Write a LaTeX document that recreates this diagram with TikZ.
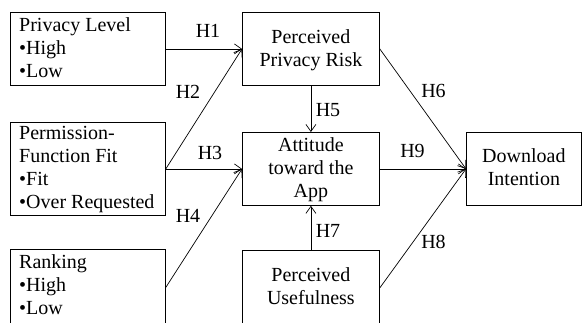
\documentclass[tikz,border=0pt]{standalone}
\usepackage{fontspec}
\setmainfont{Liberation Serif}
\usetikzlibrary{arrows.meta}
% stacked lines with a fixed 23pt pitch; the node's base is the first baseline
\newcommand{\leftlines}[1]{\begin{tabular}[t]{@{}l@{}}#1\end{tabular}}
\newcommand{\midlines}[1]{\begin{tabular}[t]{@{}c@{}}#1\end{tabular}}
\begin{document}
\begin{tikzpicture}[x=1pt,y=-1pt,
  every node/.style={font=\fontsize{20pt}{23pt}\selectfont, inner sep=0pt},
  box/.style={draw, line width=0.8pt, anchor=north west},
  factor/.style={box, minimum width=155pt},
  construct/.style={box, minimum width=137pt, minimum height=73pt},
  lefttext/.style={anchor=base west},
  midtext/.style={anchor=base},
  link/.style={line width=0.7pt, -{Straight Barb[length=7pt,width=10pt,line width=0.7pt]}}
]
\useasboundingbox (0,0) rectangle (582,322);
\clip (0,0) rectangle (582,322);

% manipulated factors
\node[factor, minimum height=73pt] (privacy) at (10,12) {};
\node[factor, minimum height=93pt] (permission) at (10,122) {};
\node[factor, minimum height=76pt] (ranking) at (10,249) {};
\node[lefttext] (privacy-text) at (19,31) {\leftlines{Privacy Level\\\textbullet High\\\textbullet Low}};
\node[lefttext] (permission-text) at (19,139) {\leftlines{Permission-\\Function Fit\\\textbullet Fit\\\textbullet Over Requested}};
\node[lefttext] (ranking-text) at (19,268) {\leftlines{Ranking\\\textbullet High\\\textbullet Low}};

% mediating constructs
\node[construct] (risk) at (242,12) {};
\node[construct] (attitude) at (242,132) {};
\node[construct, minimum height=75pt] (useful) at (242,250) {};
\node[midtext] (risk-text) at (risk.center |- 0,43) {\midlines{Perceived\\Privacy Risk}};
\node[midtext] (attitude-text) at (attitude.center |- 0,151) {\midlines{Attitude\\toward the\\App}};
\node[midtext] (useful-text) at (useful.center |- 0,281) {\midlines{Perceived\\Usefulness}};

% outcome
\node[box, minimum width=115pt, minimum height=73pt] (download) at (466,132) {};
\node[midtext] (download-text) at (download.center |- 0,162) {\midlines{Download\\Intention}};

% hypothesised paths
\draw[link] (privacy.east) -- (risk.west);
\draw[link] (permission.east) -- (risk.west);
\draw[link] (permission.east) -- (attitude.west);
\draw[link] (ranking.east) -- (attitude.west);
\draw[link] (risk.south) -- (attitude.north);
\draw[link] (useful.north) -- (attitude.south);
\draw[link] (risk.east) -- (download.west);
\draw[link] (attitude.east) -- (download.west);
\draw[link] (useful.east) -- (download.west);

% path labels
\node (h1) at (208,31) {H1};
\node (h2) at (188,92) {H2};
\node (h3) at (210,152.5) {H3};
\node (h4) at (188,216) {H4};
\node (h5) at (328,110) {H5};
\node (h6) at (433.5,91) {H6};
\node (h7) at (328,231) {H7};
\node (h8) at (433.5,242) {H8};
\node (h9) at (412.5,151) {H9};
\end{tikzpicture}
\end{document}
